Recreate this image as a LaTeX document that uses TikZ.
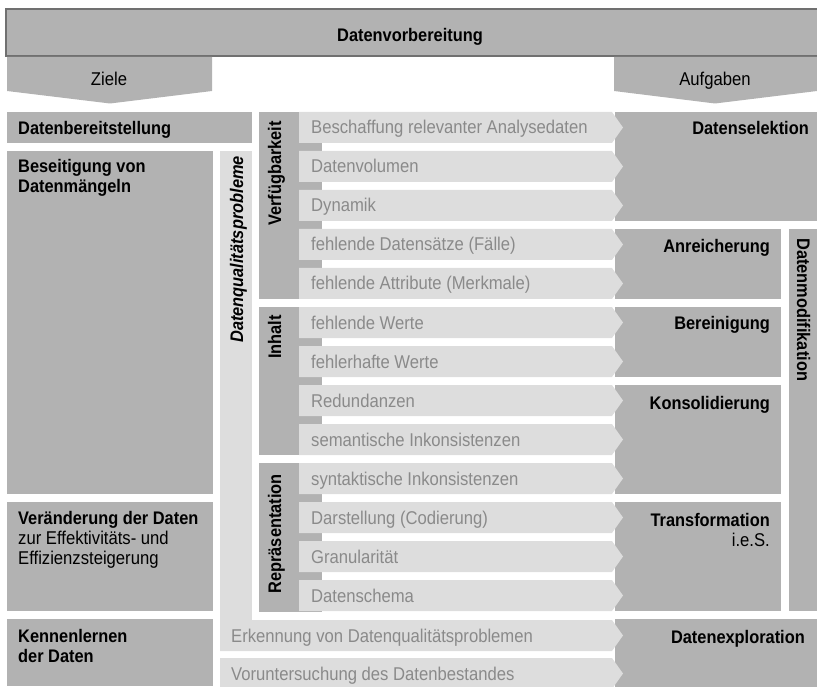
\documentclass[tikz,border=0pt]{standalone}
\usepackage{fontspec}
\setmainfont[FakeStretch=0.9]{Liberation Sans}
\definecolor{boxgray}{HTML}{B2B2B2}
\definecolor{rowgray}{HTML}{DDDDDD}
\definecolor{rowtextgray}{HTML}{8A8A8A}
\definecolor{edgegray}{HTML}{707070}

\tikzset{
  boxfill/.style={fill=boxgray},
  rowfill/.style={fill=rowgray},
  lbl/.style={font=\fontsize{18.2}{22}\selectfont\bfseries, text=black, inner sep=0pt},
  plain/.style={font=\fontsize{18.5}{22}\selectfont, text=black, inner sep=0pt},
  rowtxt/.style={font=\fontsize{18.5}{22}\selectfont, text=rowtextgray, inner sep=0pt, anchor=base west},
}

% one problem row: name, left x, text x, top y, text
\newcommand\qrow[5]{%
  \fill[rowfill] (#2,#4) -- (612,#4) -- (623,#4+15.5) -- (612,#4+31) -- (#2,#4+31) -- cycle;
  \node[rowtxt] (#1) at (#3,#4+22) {#5};}

\begin{document}
\begin{tikzpicture}[x=1pt,y=-1pt]
\useasboundingbox (0,0) rectangle (817,687);

% header
\filldraw[boxfill, draw=edgegray, line width=2pt] (6,9.3) rectangle (820,56.5);
\node[lbl, anchor=base] (dv) at (410,41.5) {Datenvorbereitung};

% Ziele / Aufgaben
\fill[boxfill] (7,57) -- (212,57) -- (212,91) -- (110,103.5) -- (7,91) -- cycle;
\node[plain, anchor=base] (ziele) at (109,86) {Ziele};
\fill[boxfill] (614,57) -- (817,57) -- (817,91) -- (715,103.5) -- (614,91) -- cycle;
\node[plain, anchor=base] (aufg) at (715,86) {Aufgaben};

% left column: goals
\fill[boxfill] (7,112) rectangle (252,143);
\node[lbl, anchor=base west] (bereit) at (18,134.5) {Datenbereitstellung};
\fill[boxfill] (7,151) rectangle (213,494);
\node[lbl, anchor=base west] (besA) at (18,173) {Beseitigung von};
\node[lbl, anchor=base west] (besB) at (18,192.5) {Datenmängeln};
\fill[boxfill] (7,502) rectangle (213,611);
\node[lbl, anchor=base west] (verA) at (18,524.5) {Veränderung der Daten};
\node[plain, anchor=base west] (verB) at (18,544.5) {zur Effektivitäts- und};
\node[plain, anchor=base west] (verC) at (18,564) {Effizienzsteigerung};
\fill[boxfill] (7,619) rectangle (213,686);
\node[lbl, anchor=base west] (kenA) at (18,642) {Kennenlernen};
\node[lbl, anchor=base west] (kenB) at (18,662) {der Daten};

% data quality bar
\fill[rowfill] (220,151) rectangle (252,640);
\node[lbl, font=\fontsize{18.2}{22}\selectfont\bfseries\itshape, rotate=90, anchor=base east] (dqp) at (243,156) {Datenqualitätsprobleme};

% groups
\fill[boxfill] (259,112) rectangle (322,299);
\fill[boxfill] (259,307) rectangle (322,455);
\fill[boxfill] (259,463) rectangle (322,612);

% right column: tasks
\fill[boxfill] (615,112) rectangle (817,221);
\fill[boxfill] (615,229) rectangle (781,299);
\fill[boxfill] (615,307) rectangle (781,377);
\fill[boxfill] (615,385) rectangle (781,494);
\fill[boxfill] (615,502) rectangle (781,611);
\fill[boxfill] (789,229) rectangle (817,611);
\fill[boxfill] (615,619) rectangle (817,687);

% problem rows
\qrow{r0}{299}{311}{112}{Beschaffung relevanter Analysedaten}
\qrow{r1}{299}{311}{151}{Datenvolumen}
\qrow{r2}{299}{311}{190}{Dynamik}
\qrow{r3}{299}{311}{229}{fehlende Datensätze (Fälle)}
\qrow{r4}{299}{311}{268}{fehlende Attribute (Merkmale)}
\qrow{r5}{299}{311}{307}{fehlende Werte}
\qrow{r6}{299}{311}{346}{fehlerhafte Werte}
\qrow{r7}{299}{311}{385}{Redundanzen}
\qrow{r8}{299}{311}{424}{semantische Inkonsistenzen}
\qrow{r9}{299}{311}{463}{syntaktische Inkonsistenzen}
\qrow{r10}{299}{311}{502}{Darstellung (Codierung)}
\qrow{r11}{299}{311}{541}{Granularität}
\qrow{r12}{299}{311}{580}{Datenschema}
\qrow{r13}{220}{231}{620}{Erkennung von Datenqualitätsproblemen}
\qrow{r14}{220}{231}{658}{Voruntersuchung des Datenbestandes}

% group labels
\node[lbl, rotate=90, anchor=base east] (gverf) at (281,121) {Verfügbarkeit};
\node[lbl, rotate=90, anchor=base east] (ginh) at (281,315) {Inhalt};
\node[lbl, rotate=90, anchor=base east] (grep) at (281,474) {Repräsentation};

% task labels
\node[lbl, anchor=base east] (tsel) at (809,134.5) {Datenselektion};
\node[lbl, anchor=base east] (tanr) at (770,252.5) {Anreicherung};
\node[lbl, anchor=base east] (tber) at (770,330) {Bereinigung};
\node[lbl, anchor=base east] (tkon) at (770,409) {Konsolidierung};
\node[lbl, anchor=base east] (ttraA) at (770,526) {Transformation};
\node[plain, anchor=base east] (ttraB) at (770,546) {i.e.S.};
\node[lbl, anchor=base east] (texp) at (805,643) {Datenexploration};
\node[lbl, rotate=-90, anchor=base west] (tmod) at (797,238) {Datenmodifikation};
\end{tikzpicture}
\end{document}
